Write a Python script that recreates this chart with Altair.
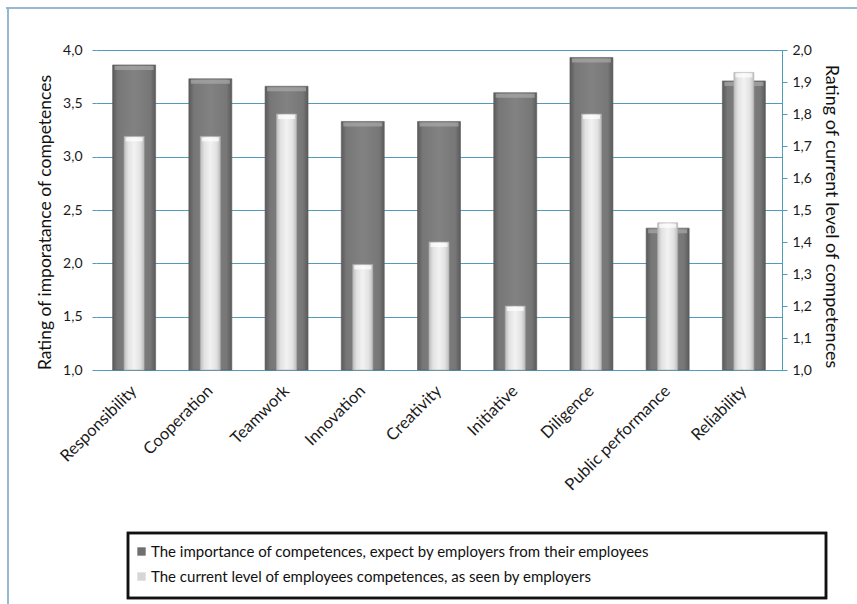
import altair as alt
import pandas as pd

# Competence categories and the two rating series
categories = ["Responsibility", "Cooperation", "Teamwork", "Innovation", "Creativity",
              "Initiative", "Diligence", "Public performance", "Reliability"]
importance = [3.86, 3.73, 3.66, 3.33, 3.33, 3.60, 3.93, 2.33, 3.71]
current_level = [1.73, 1.73, 1.80, 1.33, 1.40, 1.20, 1.80, 1.46, 1.93]
series_names = ["The importance of competences, expect by employers from their employees",
                "The current level of employees competences, as seen by employers"]
left_ticks = [1.0, 1.5, 2.0, 2.5, 3.0, 3.5, 4.0]
right_ticks = [1.0, 1.1, 1.2, 1.3, 1.4, 1.5, 1.6, 1.7, 1.8, 1.9, 2.0]

df = pd.DataFrame({"cat": categories, "imp": importance, "cur": current_level})
legend_df = pd.DataFrame({"series": series_names})

FONT = "Lato"
GRID = "#4f9dbb"
comma = "replace(format(datum.value, '.1f'), '.', ',')"

dark_fill = alt.Gradient(
    gradient="linear", x1=0, y1=0, x2=1, y2=0,
    stops=[alt.GradientStop(offset=0, color="#5a5a5a"),
           alt.GradientStop(offset=0.12, color="#777777"),
           alt.GradientStop(offset=0.5, color="#828282"),
           alt.GradientStop(offset=0.88, color="#777777"),
           alt.GradientStop(offset=1, color="#5a5a5a")])
light_fill = alt.Gradient(
    gradient="linear", x1=0, y1=0, x2=1, y2=0,
    stops=[alt.GradientStop(offset=0, color="#bdbdbd"),
           alt.GradientStop(offset=0.2, color="#e2e2e2"),
           alt.GradientStop(offset=0.5, color="#f2f2f2"),
           alt.GradientStop(offset=0.8, color="#e2e2e2"),
           alt.GradientStop(offset=1, color="#bdbdbd")])

x_enc = alt.X("cat:N", sort=categories, title=None,
              scale=alt.Scale(paddingInner=0.2, paddingOuter=0.1),
              axis=alt.Axis(labelAngle=-45, labelAlign="right", labelBaseline="middle",
                            labelFont=FONT, labelFontSize=16.5,
                            labelColor="#1a1a1a", labelPadding=18, ticks=False,
                            domainColor=GRID, domainWidth=1))

y_left = alt.Y("imp:Q", title="Rating of imporatance of competences",
               scale=alt.Scale(domain=[1, 4], zero=False, nice=False),
               axis=alt.Axis(values=left_ticks, labelExpr=comma, grid=True,
                             gridColor=GRID, gridWidth=1, domain=False,
                             tickColor=GRID, tickSize=4, labelPadding=10,
                             labelFont=FONT, labelFontSize=14, labelColor="#1a1a1a",
                             titleFont=FONT, titleFontSize=17.5, titleFontWeight="normal",
                             titleColor="#111111", titlePadding=8, titleY=172))

y_right = alt.Y("cur:Q", title="Rating of current level of competences",
                scale=alt.Scale(domain=[1, 2], zero=False, nice=False),
                axis=alt.Axis(orient="right", values=right_ticks, labelExpr=comma,
                              grid=False, domain=True, domainColor=GRID,
                              tickColor=GRID, tickSize=5, labelPadding=5,
                              labelFont=FONT, labelFontSize=14, labelColor="#1a1a1a",
                              titleFont=FONT, titleFontSize=18, titleFontWeight="normal",
                              titleColor="#111111", titlePadding=10, titleY=166))

base = alt.Chart(df)

dark_bars = base.mark_bar(width=43, color=dark_fill, stroke="#5c5c5c", strokeWidth=0.6).encode(
    x=x_enc, y=y_left, y2=alt.datum(1))
dark_caps = base.mark_tick(size=39, thickness=4, color="#a9a9a9", yOffset=3).encode(
    x=x_enc, y=y_left)
dark_layer = alt.layer(dark_bars, dark_caps)

light_bars = base.mark_bar(width=20, color=light_fill, stroke="#b0b0b0", strokeWidth=0.6).encode(
    x=x_enc, y=y_right, y2=alt.datum(1))
light_caps = base.mark_tick(size=17, thickness=4, color="#ffffff", yOffset=3).encode(
    x=x_enc, y=y_right)
light_layer = alt.layer(light_bars, light_caps)

# Legend entries (symbols and labels) from an invisible layer
legend_layer = alt.Chart(legend_df).mark_square(opacity=0).encode(
    color=alt.Color("series:N", sort=series_names,
                    scale=alt.Scale(domain=series_names, range=["#6f6f6f", "#d6d6d6"]),
                    legend=alt.Legend(orient="none", legendX=38, legendY=494, title=None,
                                      symbolType="square", symbolSize=70,
                                      symbolOpacity=1, symbolStrokeWidth=0,
                                      labelFont=FONT, labelFontSize=15,
                                      labelColor="#111111", labelLimit=700,
                                      rowPadding=9, labelOffset=2)))

# Legend frame
legend_box = alt.Chart(legend_df).mark_rect(filled=False, stroke="#111111", strokeWidth=2.5).encode(
    x=alt.value(32), x2=alt.value(730), y=alt.value(483), y2=alt.value(548))

# Outer chart-area border (top and left edges)
frame_top = alt.Chart(legend_df).mark_rule(color="#8db6cc", strokeWidth=1.5).encode(
    x=alt.value(-90), x2=alt.value(770), y=alt.value(-42))
frame_left = alt.Chart(legend_df).mark_rule(color="#8db6cc", strokeWidth=1.5).encode(
    x=alt.value(-88), y=alt.value(-42), y2=alt.value(560))

bars = alt.layer(dark_layer, light_layer).resolve_scale(y="independent")

chart = alt.layer(bars, legend_layer, legend_box, frame_top, frame_left).resolve_scale(
    y="independent"
).properties(
    width=686, height=320,
    padding={"left": 96, "top": 50, "right": 75, "bottom": 234},
    autosize=alt.AutoSizeParams(type="none"),
    background="white",
).configure_view(stroke=None)

chart.save("out.html", embed_options={"renderer": "svg", "actions": False})
